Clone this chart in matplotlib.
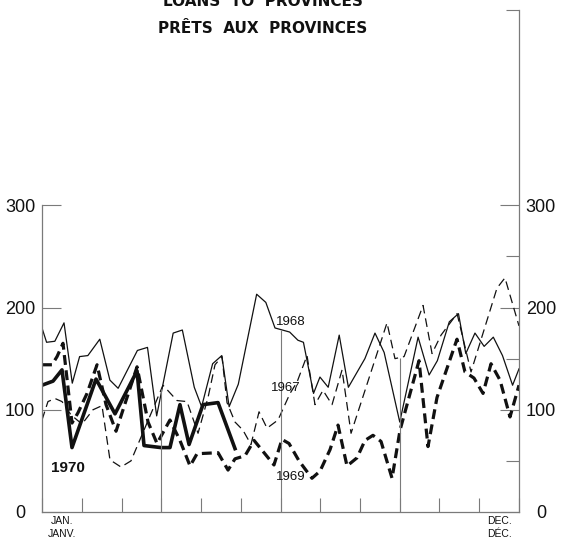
import numpy as np
import matplotlib.pyplot as plt
from matplotlib.ticker import FixedLocator

plt.rcParams['font.family'] = ['Liberation Sans', 'DejaVu Sans']

# === data: week of year (0 = Jan 1, 52 = Dec 31) and loans outstanding ===
wk_1967 = [0, 0.65, 1.42, 2.18, 3.16, 4.36, 5.56, 6.54, 7.41, 8.61, 9.70,
           13.19, 14.72, 15.81, 17.01, 18.10, 18.86, 19.62, 20.17, 21.04, 21.91, 22.78,
           23.66, 24.53, 25.73, 27.04, 27.80, 28.89, 29.76, 30.63, 31.62, 32.71, 33.69,
           37.61, 38.48, 39.47, 41.54, 42.52, 43.50, 45.25, 46.77, 49.60, 50.47, 52.0]
v_1967 = [90, 108, 111, 108, 95, 86, 100, 104, 51, 44, 50,
          124, 109, 108, 77, 112, 144, 152, 107, 88, 80, 66,
          98, 82, 90, 116, 127, 153, 105, 119, 105, 139, 77,
          185, 150, 152, 202, 155, 173, 194, 137, 219, 229, 182]

wk_1968 = [0, 0.5, 1.4, 2.4, 3.3, 4.1, 5.0, 6.3, 7.4, 8.3, 10.4, 11.5, 12.5, 14.3, 15.3,
           16.6, 17.4, 18.6, 19.6, 20.4, 21.4, 23.4, 24.4, 25.4, 26.2, 27.0, 27.9, 28.5,
           29.6, 30.3, 31.2, 32.4, 33.4, 35.2, 36.3, 37.3, 39.0, 41.0, 42.2, 43.1, 44.4,
           45.4, 46.2, 47.2, 48.2, 49.2, 50.2, 51.3, 52.0]
v_1968 = [180, 166, 167, 185, 126, 152, 153, 169, 129, 121, 158, 161, 94, 175, 178,
          122, 103, 145, 153, 103, 125, 213, 205, 180, 178, 176, 168, 166,
          116, 132, 122, 173, 122, 150, 175, 156, 88, 171, 134, 148, 186,
          194, 155, 175, 162, 171, 153, 124, 140]

wk_1969 = [0, 1.09, 1.64, 2.29, 3.27, 3.92, 4.91, 6.0, 6.98, 8.07, 10.36, 11.56, 12.54,
           13.95, 15.04, 16.14, 16.9, 19.19, 20.28, 21.04, 22.13, 23.12, 25.29, 26.16,
           26.93, 28.02, 29.43, 30.31, 31.4, 32.27, 33.25, 34.34, 35.21, 36.08, 36.96,
           38.16, 39.03, 41.1, 42.08, 43.06, 45.24, 46.11, 47.09, 48.08, 48.95, 49.93,
           51.02, 52.0]
v_1969 = [144, 144, 152, 165, 87, 97, 116, 144, 105, 79, 142, 88, 67,
          90, 70, 45, 57, 58, 41, 52, 55, 70, 46, 71,
          67, 50, 33, 40, 61, 85, 45, 53, 70, 75, 69,
          33, 80, 148, 64, 112, 169, 137, 131, 116, 145, 129,
          93, 124]

wk_1970 = [0, 1.2, 2.18, 3.27, 5.89, 7.96, 10.36, 11.12, 12.97, 13.95, 15.04, 16.03,
           17.55, 19.19, 21.04]
v_1970 = [124, 128, 139, 63, 130, 96, 138, 65, 63, 63, 105, 66, 105, 107, 62]

series = [(wk_1967, v_1967), (wk_1968, v_1968), (wk_1969, v_1969), (wk_1970, v_1970)]

weeks_per_month = 52 / 12
axis_grey = '#7a7a7a'
ink = '#111111'

# === figure ===
fig = plt.figure(figsize=(5.61, 5.45), dpi=100)
ax = fig.add_axes([42 / 561, 33 / 545, 477 / 561, 502 / 545])
ax.set_xlim(0, 52)
ax.set_ylim(0, 491)

ax.plot(wk_1968, v_1968, color=ink, lw=0.9)
ax.plot(wk_1967, v_1967, color=ink, lw=0.9, dashes=(7, 4))
ax.plot(wk_1969, v_1969, color=ink, lw=2.3, dashes=(3.1, 1.7))
ax.plot(wk_1970, v_1970, color=ink, lw=2.6)

# quarter lines rise up to the highest curve
for q in [13, 26, 39]:
    top = max(np.interp(q, wk, v) for wk, v in series if wk[-1] >= q)
    ax.vlines(q, 0, top, color=axis_grey, lw=0.8)

# spines
ax.spines['top'].set_visible(False)
for side in ['left', 'right', 'bottom']:
    ax.spines[side].set_color(axis_grey)
    ax.spines[side].set_linewidth(0.9)
ax.spines['left'].set_bounds(0, 300)

# x ticks: month boundaries
ax.set_xticks(np.arange(13) * weeks_per_month)
ax.tick_params(axis='x', direction='in', length=10, width=0.8, color=axis_grey,
               labelbottom=False)

# y ticks on both sides
ax.set_yticks([0, 100, 200, 300])
ax.set_yticklabels(['0', '100', '200', '300'])
ax.tick_params(axis='y', which='major', direction='in', length=14, width=0.8,
               color=axis_grey, left=True, right=True, labelleft=True, labelright=True,
               labelsize=13, labelcolor=ink, pad=15.8)
for lab in ax.get_yticklabels(which='major'):
    lab.set_horizontalalignment('center')
ax.yaxis.set_minor_locator(FixedLocator([50, 150, 250, 491]))
ax.tick_params(axis='y', which='minor', direction='in', length=9.5, width=0.8,
               color=axis_grey, left=False, right=True)

# month names
xt = ax.get_xaxis_transform()
ax.text(0.5 * weeks_per_month, -0.008, 'JAN.\nJANV.', transform=xt, ha='center', va='top',
        fontsize=7.5, linespacing=1.4, color=ink)
ax.text(11.5 * weeks_per_month, -0.008, 'DEC.\nDÉC.', transform=xt, ha='center', va='top',
        fontsize=7.5, linespacing=1.4, color=ink)

# series labels
ax.text(27.1, 186, '1968', ha='center', va='center', fontsize=9.5, color=ink)
ax.text(26.6, 121, '1967', ha='center', va='center', fontsize=9.5, color=ink)
ax.text(27.1, 34, '1969', ha='center', va='center', fontsize=9.5, color=ink)
ax.text(2.8, 43, '1970', ha='center', va='center', fontsize=11, fontweight='bold', color=ink)

# title (the first line is cut by the top edge, as in the original)
fig.text(263 / 561, 1 - 1.5 / 545, 'LOANS  TO  PROVINCES', ha='center', va='center',
         fontsize=11, fontweight='bold', family='DejaVu Sans', color=ink)
fig.text(263 / 561, 1 - 28.5 / 545, 'PRÊTS  AUX  PROVINCES', ha='center', va='center',
         fontsize=11, fontweight='bold', family='DejaVu Sans', color=ink)

fig.savefig('out.png', dpi=100)
